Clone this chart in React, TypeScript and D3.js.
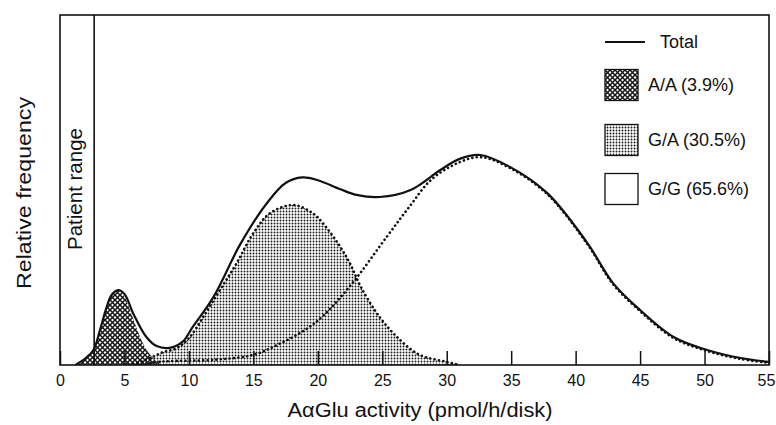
import React, { useEffect, useRef } from "react";
import * as d3 from "d3";

// x ticks (pmol/h/disk)
const xTicks = [0, 5, 10, 15, 20, 25, 30, 35, 40, 45, 50, 55];
const patientLimit = 2.65;

// curves (relative frequency, arbitrary 0-100)
const totalX = [1.2, 2, 2.6, 3.1, 3.6, 4, 4.5, 5, 5.7, 6.7, 7.5, 8.5, 9.5, 10.3, 11.9, 14, 16, 17.5, 18.8, 20, 21.7, 23, 24.8, 27.2, 29.5, 31, 32.6, 34.9, 37.8, 40.9, 42.9, 45, 47.6, 50.2, 52.8, 55];
const totalY = [0, 2, 4.3, 10, 16.3, 20, 21.4, 20.3, 14.6, 8, 5.4, 4.9, 6.6, 10.9, 19.4, 34.6, 46, 52, 53.6, 52.8, 50.3, 48.6, 48, 50, 55.7, 58.9, 60, 56.6, 49.1, 34.9, 23.4, 15.7, 8, 4.3, 2, 0.9];

const aaX = [1.2, 2, 2.6, 3.1, 3.6, 4, 4.5, 5, 5.5, 6, 6.5, 7, 7.5, 8];
const aaY = [0, 2, 4.3, 10, 16.3, 20, 21.4, 19.5, 15, 10, 5.7, 2.9, 0.9, 0];

const gaX = [5, 6, 7, 8, 9, 10, 11.1, 12.4, 13.7, 15, 16.3, 18.1, 19.6, 20.4, 21.7, 22.5, 23.3, 24.8, 26.4, 27.9, 30, 31];
const gaY = [0, 0.6, 2, 3.7, 4.7, 7.7, 13.7, 21.4, 29.1, 37.7, 43.4, 45.7, 43.4, 40.5, 34, 29, 22.6, 13.7, 7.1, 2.9, 0.9, 0];

const ggX = [6, 8, 12, 15, 17, 19, 20.4, 22.7, 25.4, 27.2, 28.7, 30.5, 32.6, 34.9, 37.8, 40.9, 42.9, 45, 47.6, 50.2, 52.8, 55];
const ggY = [0, 1, 1.5, 2.9, 6, 10, 14, 23.5, 36.9, 45.7, 52.6, 57.1, 59.4, 56.3, 48.8, 34.6, 23.1, 15.4, 7.7, 4, 1.7, 0.6];

const legendLabels = ["Total", "A/A (3.9%)", "G/A (30.5%)", "G/G (65.6%)"];

const FONT = "'Liberation Sans', Arial, Helvetica, sans-serif";

export default function App() {
  const ref = useRef<SVGSVGElement>(null);

  useEffect(() => {
    const svg = d3.select(ref.current);
    svg.selectAll("*").remove();

    const left = 60, right = 769, top = 15, bottom = 365;
    const x = d3.scaleLinear().domain([0, 55]).range([left, right]);
    const y = d3.scaleLinear().domain([0, 100]).range([bottom, top]);

    const defs = svg.append("defs");
    const hatch = defs.append("pattern")
      .attr("id", "hatch").attr("patternUnits", "userSpaceOnUse")
      .attr("width", 5).attr("height", 5);
    hatch.append("rect").attr("width", 5).attr("height", 5).attr("fill", "#fff");
    hatch.append("path").attr("d", "M-1,-1 L6,6 M6,-1 L-1,6")
      .attr("stroke", "#151515").attr("stroke-width", 1.5);

    const dots = defs.append("pattern")
      .attr("id", "dots").attr("patternUnits", "userSpaceOnUse")
      .attr("width", 3).attr("height", 3);
    dots.append("rect").attr("width", 3).attr("height", 3).attr("fill", "#fff");
    dots.append("circle").attr("cx", 1.5).attr("cy", 1.5).attr("r", 0.95).attr("fill", "#1a1a1a");

    defs.append("clipPath").attr("id", "plot")
      .append("rect").attr("x", left).attr("y", top)
      .attr("width", right - left).attr("height", bottom - top);

    const pts = (xs: number[], ys: number[]) => xs.map((v, i) => [v, ys[i]] as [number, number]);

    const curve = d3.curveCatmullRom.alpha(0.5);
    const area = d3.area<[number, number]>()
      .x(d => x(d[0])).y0(y(0)).y1(d => y(Math.max(0, d[1])))
      .curve(curve);
    const line = d3.line<[number, number]>()
      .x(d => x(d[0])).y(d => y(d[1]))
      .curve(curve);

    const g = svg.append("g").attr("clip-path", "url(#plot)");

    // G/A fill
    g.append("path").datum(pts(gaX, gaY)).attr("d", area).attr("fill", "url(#dots)");
    // A/A fill
    g.append("path").datum(pts(aaX, aaY)).attr("d", area).attr("fill", "url(#hatch)");

    // G/A dotted edge
    g.append("path").datum(pts(gaX, gaY)).attr("d", line)
      .attr("fill", "none").attr("stroke", "#111").attr("stroke-width", 2.6)
      .attr("stroke-linecap", "round").attr("stroke-dasharray", "0.1 4.3");

    // G/G dotted
    g.append("path").datum(pts(ggX, ggY)).attr("d", line)
      .attr("fill", "none").attr("stroke", "#111").attr("stroke-width", 2.6)
      .attr("stroke-linecap", "round").attr("stroke-dasharray", "0.1 4.3");

    // total
    g.append("path").datum(pts(totalX, totalY)).attr("d", line)
      .attr("fill", "none").attr("stroke", "#111").attr("stroke-width", 2.2);

    // patient range
    svg.append("line")
      .attr("x1", x(patientLimit)).attr("x2", x(patientLimit))
      .attr("y1", top).attr("y2", bottom)
      .attr("stroke", "#111").attr("stroke-width", 1.6);
    svg.append("text")
      .attr("transform", `translate(${x(patientLimit) - 12},250) rotate(-90)`)
      .attr("font-family", FONT).attr("font-size", 20).attr("fill", "#111")
      .attr("textLength", 122).attr("lengthAdjust", "spacingAndGlyphs")
      .text("Patient range");

    // axis
    const axis = svg.append("g")
      .attr("transform", `translate(0,${bottom})`)
      .call(d3.axisBottom(x).tickValues(xTicks).tickSize(-14).tickPadding(10));
    axis.select(".domain").remove();
    axis.selectAll(".tick line").attr("stroke", "#111").attr("stroke-width", 1.5);
    axis.selectAll(".tick text")
      .attr("font-family", FONT).attr("font-size", 16).attr("fill", "#111")
      .attr("dx", (d: any) => (d === 55 ? -3 : 0));

    // frame
    svg.append("rect")
      .attr("x", left).attr("y", top)
      .attr("width", right - left).attr("height", bottom - top)
      .attr("fill", "none").attr("stroke", "#111").attr("stroke-width", 1.6);

    svg.append("text")
      .attr("x", 420).attr("y", 417).attr("text-anchor", "middle")
      .attr("font-family", FONT).attr("font-size", 20).attr("fill", "#111")
      .attr("textLength", 265).attr("lengthAdjust", "spacingAndGlyphs")
      .text("AαGlu activity (pmol/h/disk)");
    svg.append("text")
      .attr("transform", "translate(31,193) rotate(-90)")
      .attr("text-anchor", "middle")
      .attr("font-family", FONT).attr("font-size", 20).attr("fill", "#111")
      .attr("textLength", 192).attr("lengthAdjust", "spacingAndGlyphs")
      .text("Relative frequency");

    // legend
    const lg = svg.append("g").attr("font-family", FONT).attr("font-size", 18).attr("fill", "#111");
    lg.append("line").attr("x1", 605).attr("x2", 645).attr("y1", 42).attr("y2", 42)
      .attr("stroke", "#111").attr("stroke-width", 2.2);
    lg.append("text").attr("x", 660).attr("y", 42).attr("dy", "0.35em").text(legendLabels[0]);
    const rows = [
      { cy: 85, fill: "url(#hatch)", label: legendLabels[1] },
      { cy: 140, fill: "url(#dots)", label: legendLabels[2] },
      { cy: 189, fill: "#fff", label: legendLabels[3] },
    ];
    rows.forEach(r => {
      lg.append("rect").attr("x", 605).attr("y", r.cy - 15.5)
        .attr("width", 33).attr("height", 31)
        .attr("fill", r.fill).attr("stroke", "#111").attr("stroke-width", 1.3);
      lg.append("text").attr("x", 648).attr("y", r.cy).attr("dy", "0.35em").text(r.label);
    });
  }, []);

  return (
    <svg ref={ref} width={776} height={425}
      style={{ position: "absolute", left: 0, top: 0, background: "#fff" }} />
  );
}
